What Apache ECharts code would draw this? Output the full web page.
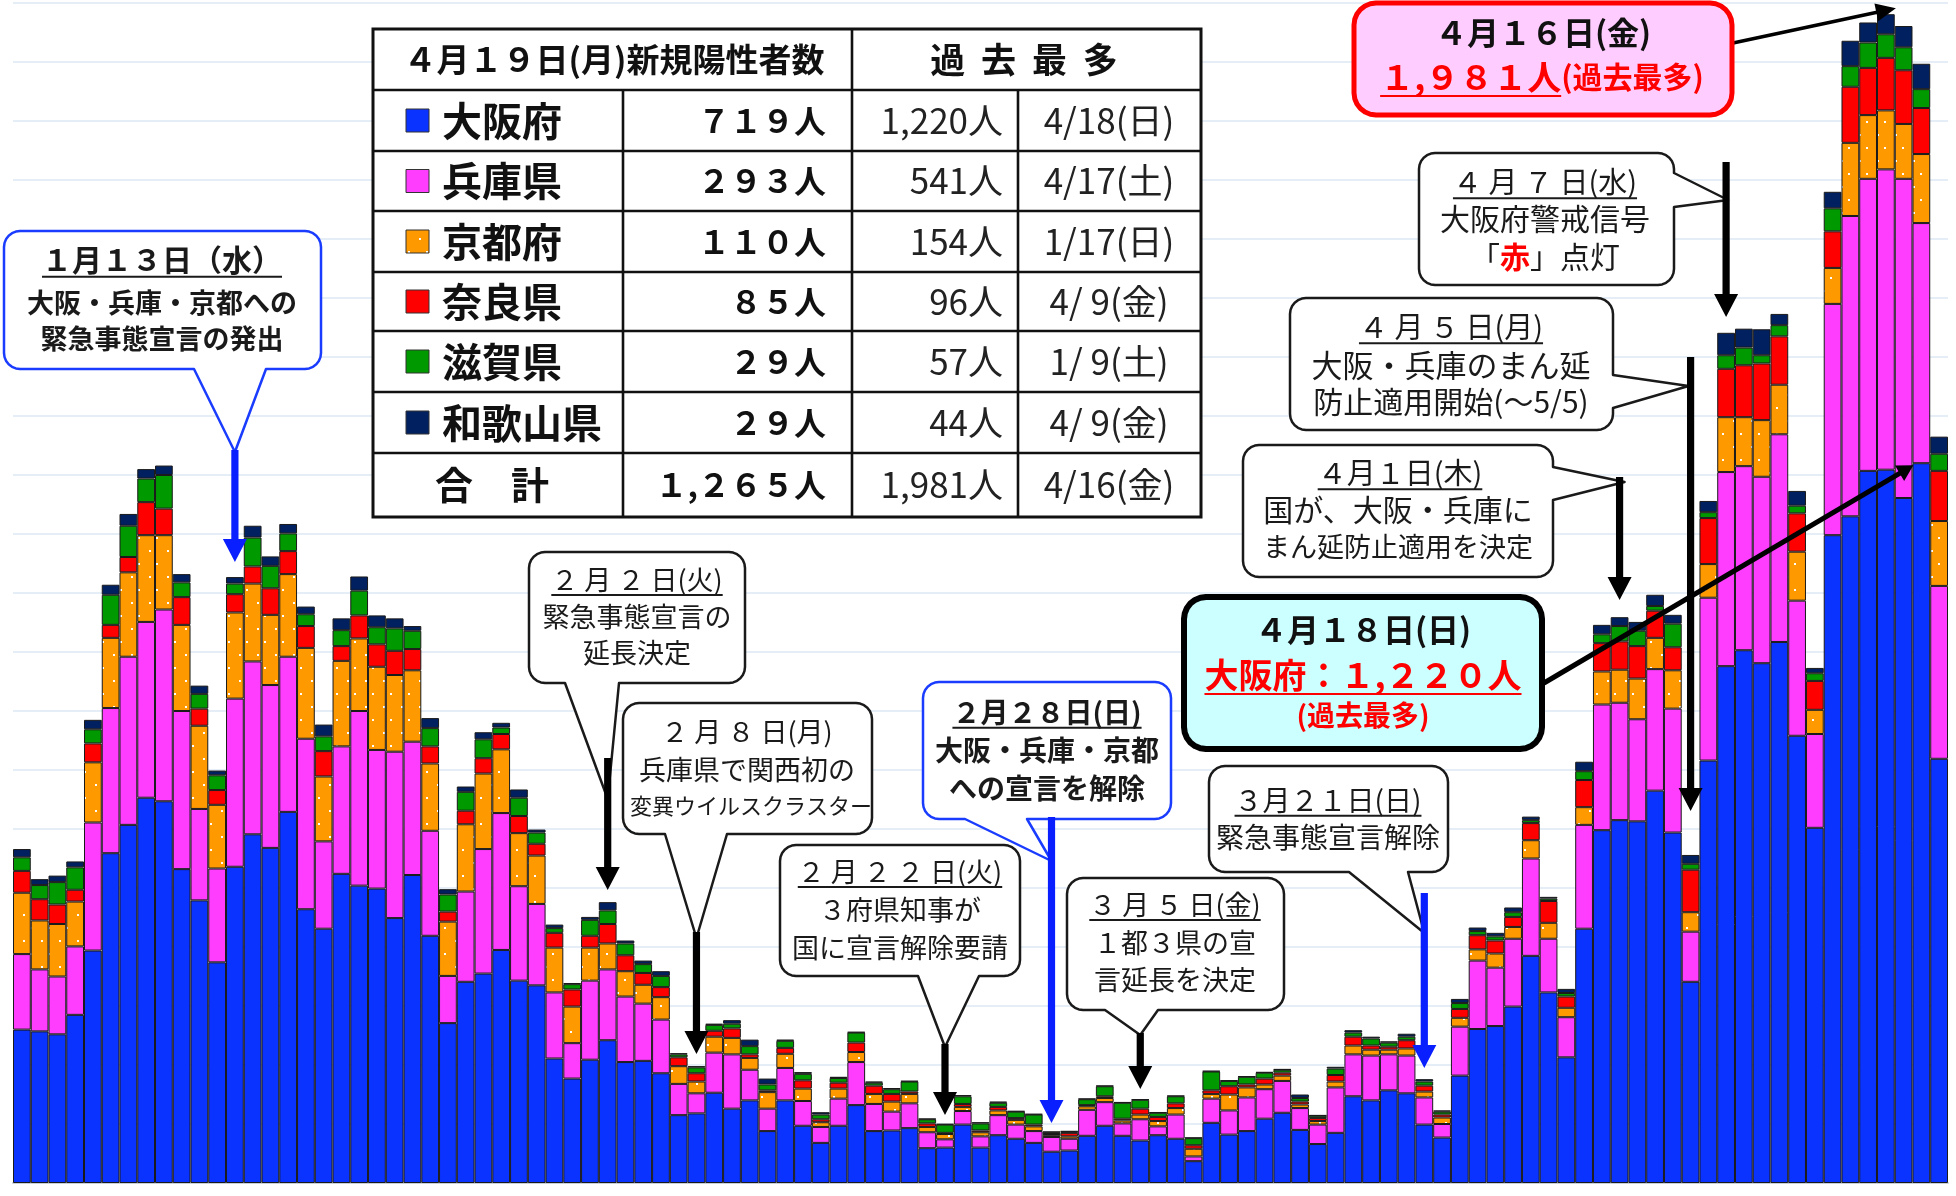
<!DOCTYPE html>
<html><head><meta charset="utf-8">
<script src="https://cdn.jsdelivr.net/npm/echarts@6/dist/echarts.min.js"></script>
<style>html,body{margin:0;padding:0;background:#fff}#c{width:1956px;height:1196px}</style>
</head><body><div id="c"></div>
<script>
const dates = ['1/1','1/2','1/3','1/4','1/5','1/6','1/7','1/8','1/9','1/10','1/11','1/12','1/13','1/14','1/15','1/16','1/17','1/18','1/19','1/20','1/21','1/22','1/23','1/24','1/25','1/26','1/27','1/28','1/29','1/30','1/31',
'2/1','2/2','2/3','2/4','2/5','2/6','2/7','2/8','2/9','2/10','2/11','2/12','2/13','2/14','2/15','2/16','2/17','2/18','2/19','2/20','2/21','2/22','2/23','2/24','2/25','2/26','2/27','2/28',
'3/1','3/2','3/3','3/4','3/5','3/6','3/7','3/8','3/9','3/10','3/11','3/12','3/13','3/14','3/15','3/16','3/17','3/18','3/19','3/20','3/21','3/22','3/23','3/24','3/25','3/26','3/27','3/28','3/29','3/30','3/31',
'4/1','4/2','4/3','4/4','4/5','4/6','4/7','4/8','4/9','4/10','4/11','4/12','4/13','4/14','4/15','4/16','4/17','4/18','4/19'];

const osaka = [260,257,252,285,394,559,607,653,647,532,479,374,536,591,568,629,464,431,524,504,499,449,522,419,271,341,355,395,343,335,211,
177,209,242,205,207,186,115,118,153,126,140,88,140,97,68,97,132,88,89,93,59,60,99,60,81,75,68,53,
55,80,97,80,72,81,75,37,102,82,88,109,119,90,66,85,147,140,157,152,99,77,182,261,266,299,385,323,213,431,598,
615,613,665,594,341,716,876,903,881,917,758,602,1098,1130,1207,1209,1161,1220,719];
const hyogo = [128,105,98,116,217,246,285,298,325,268,155,159,285,293,276,263,289,148,216,296,235,282,226,178,80,153,211,232,160,138,112,
60,134,120,111,97,91,53,34,68,92,52,38,55,42,27,46,73,46,32,42,27,14,23,19,34,24,20,25,
20,44,40,21,36,15,41,8,41,41,57,50,54,37,33,77,71,76,61,64,46,23,83,116,99,115,165,91,68,176,213,
199,173,206,210,85,276,329,312,316,352,229,159,392,509,495,509,541,407,293];
const kyoto = [104,83,89,76,102,119,143,147,126,146,141,108,146,132,119,140,154,110,145,123,141,130,121,114,92,114,128,108,90,82,76,
62,56,44,43,32,38,30,20,27,28,20,28,24,21,8,17,17,17,17,16,9,9,7,7,8,8,8,3,
4,6,7,5,8,9,11,13,8,27,17,8,9,6,6,10,15,10,8,12,10,11,15,19,24,20,31,27,16,30,56,
56,69,53,65,33,57,93,83,96,84,83,41,61,124,108,100,93,117,110];
const nara = [37,36,33,20,32,22,26,56,45,47,29,25,31,29,45,39,37,43,25,39,38,41,36,29,17,23,26,26,29,20,25,
29,20,33,27,20,17,15,14,10,16,6,3,10,14,5,10,16,14,13,4,6,2,5,3,6,3,3,2,
6,2,3,3,10,7,8,6,6,14,5,10,5,5,5,11,15,7,5,14,10,5,15,24,22,17,29,37,19,46,48,
48,55,46,39,72,78,82,88,96,82,65,49,62,95,80,89,91,78,85];
const shiga = [23,24,38,38,24,51,53,40,57,25,25,25,18,49,38,30,20,25,27,42,29,38,31,31,29,32,32,11,31,19,8,
9,27,23,20,15,19,5,10,10,8,14,10,12,11,8,8,17,5,8,17,7,14,13,12,7,11,17,3,
2,10,17,27,15,7,12,12,32,9,13,10,5,6,4,11,7,12,7,6,7,5,10,7,7,8,5,4,6,15,15,
26,26,8,40,10,10,23,30,14,19,13,13,39,35,43,40,39,32,29];
const wakayama = [14,10,11,10,16,17,20,16,16,14,14,8,11,20,16,16,13,20,20,24,20,17,8,17,9,9,12,8,14,5,6,
2,5,14,5,6,8,2,2,2,6,11,10,2,3,4,2,1,2,2,1,1,1,2,2,2,1,1,1,
1,1,1,1,1,1,1,1,1,1,1,1,1,6,1,3,4,3,2,5,4,2,7,6,6,8,6,3,7,16,16,
15,15,19,15,15,19,38,32,44,19,25,9,28,43,34,34,36,43,29];

const prefs = ['大阪府','兵庫県','京都府','奈良県','滋賀県','和歌山県'];
const pastMax = ['1,220人','541人','154人','96人','57人','44人'];
const pastMaxDate = ['4/18(日)','4/17(土)','1/17(日)','4/ 9(金)','1/ 9(土)','4/ 9(金)'];
const totalMax = '1,981人';
const totalMaxDate = '4/16(金)';
const tableTitle = '４月１９日(月)新規陽性者数';
const tableTitle2 = '過  去  最  多';

const colors = ['#0A33FF','#FF3DFF','#FF9900','#FF0000','#009900','#002060'];
const FONT = '"Noto Sans CJK JP", "Noto Sans CJK SC", sans-serif';

function dotPattern(){
  const c=document.createElement('canvas'); c.width=18; c.height=26;
  const g=c.getContext('2d'); g.fillStyle='#FF9900'; g.fillRect(0,0,18,26);
  g.fillStyle='#ffffff'; g.fillRect(5,4,2,2); g.fillRect(12,17,2,2);
  return c;
}
const kyotoFill = {image: dotPattern(), repeat:'repeat'};

const values = [osaka,hyogo,kyoto,nara,shiga,wakayama];
const chart = echarts.init(document.getElementById('c'), null, {renderer:'canvas'});
chart.setOption({
  animation:false,
  backgroundColor:'#ffffff',
  grid:{left:13,right:8,top:3,bottom:13,containLabel:false},
  xAxis:{type:'category',data:dates,axisLine:{show:true,lineStyle:{color:'#c9cfd8',width:2}},axisTick:{show:false},axisLabel:{show:false},splitLine:{show:false}},
  yAxis:{type:'value',min:0,max:2000,interval:100,axisLabel:{show:false},axisLine:{show:false},axisTick:{show:false},
    splitLine:{show:true,lineStyle:{color:'#dde7f3',width:1.5}}},
  series: prefs.map((n,i)=>({name:n,type:'bar',stack:'total',data:values[i],barWidth:'100%',barCategoryGap:'0%',silent:true,
    itemStyle:{color: i===2 ? kyotoFill : colors[i], borderColor:'#1a1a1a', borderWidth:1}, emphasis:{disabled:true}}))
});

const px = d => chart.convertToPixel({xAxisIndex:0}, d);
const py = v => chart.convertToPixel({yAxisIndex:0}, v);
const mctx = document.createElement('canvas').getContext('2d');
function tw(t,size,weight){ mctx.font=(weight||'normal')+' '+size+'px '+FONT; return mctx.measureText(t).width; }

const G = [];
let Z = 100;
function text(t,x,y,size,opt){
  opt=opt||{};
  const st={text:t,x:x,y:y,fontSize:size,fontWeight:opt.weight||'normal',fontFamily:FONT,fill:opt.color||'#1a1a1a',
    align:opt.align||'center',textAlign:opt.align||'center',verticalAlign:'middle',textVerticalAlign:'middle'};
  if(opt.rich) st.rich=opt.rich;
  G.push({type:'text',z:Z,style:st,silent:true});
  if(opt.underline){
    const w = opt.uw || tw(t,size,opt.weight);
    let x0 = x - w/2; if(opt.align==='left') x0=x; if(opt.align==='right') x0=x-w;
    const uy = y + size*0.56;
    G.push({type:'line',z:Z,shape:{x1:x0,y1:uy,x2:x0+w,y2:uy},style:{stroke:opt.ucolor||opt.color||'#1a1a1a',lineWidth:2}});
  }
}
function boxPts(x,y,w,h,r,tail){
  const pts=[];
  const arc=(cx,cy,a0,a1)=>{for(let k=0;k<=6;k++){const a=a0+(a1-a0)*k/6;pts.push([cx+r*Math.cos(a),cy+r*Math.sin(a)]);}};
  arc(x+r,y+r,Math.PI,1.5*Math.PI);
  arc(x+w-r,y+r,1.5*Math.PI,2*Math.PI);
  if(tail&&tail.side==='right'){pts.push([x+w,tail.a],tail.tip,[x+w,tail.b]);}
  arc(x+w-r,y+h-r,0,0.5*Math.PI);
  if(tail&&tail.side==='bottom'){pts.push([tail.b,y+h],tail.tip,[tail.a,y+h]);}
  arc(x+r,y+h-r,0.5*Math.PI,Math.PI);
  return pts;
}
function box(b,r,tail,fill,stroke,lw){
  G.push({type:'polygon',z:Z,shape:{points:boxPts(b[0],b[1],b[2],b[3],r,tail)},style:{fill:fill,stroke:stroke,lineWidth:lw,lineJoin:'round'}});
}
function vArrow(x,y1,y2,color){
  const w=3.6,hw=12,hl=23;
  G.push({type:'polygon',z:Z,shape:{points:[[x-w,y1],[x+w,y1],[x+w,y2-hl],[x+hw,y2-hl],[x,y2],[x-hw,y2-hl],[x-w,y2-hl]]},style:{fill:color}});
}
function dArrow(x1,y1,x2,y2,lw,hw,hl,color){
  const dx=x2-x1,dy=y2-y1,L=Math.hypot(dx,dy),ux=dx/L,uy=dy/L,nx=-uy,ny=ux;
  const bx=x2-ux*hl,by=y2-uy*hl;
  G.push({type:'line',z:Z,shape:{x1:x1,y1:y1,x2:bx+ux*2,y2:by+uy*2},style:{stroke:color,lineWidth:lw}});
  G.push({type:'polygon',z:Z,shape:{points:[[x2,y2],[bx+nx*hw,by+ny*hw],[bx-nx*hw,by-ny*hw]]},style:{fill:color}});
}

/* ---------- table ---------- */
const TX=[373,623,852,1018,1201], TY=[29,90,151,211,272,331,392,453,517];
G.push({type:'rect',z:Z,shape:{x:TX[0],y:TY[0],width:TX[4]-TX[0],height:TY[8]-TY[0]},style:{fill:'#fff',stroke:'#111',lineWidth:3}});
for(let i=1;i<TY.length-1;i++) G.push({type:'line',z:Z,shape:{x1:TX[0],y1:TY[i],x2:TX[4],y2:TY[i]},style:{stroke:'#111',lineWidth:2.6}});
G.push({type:'line',z:Z,shape:{x1:TX[1],y1:TY[1],x2:TX[1],y2:TY[8]},style:{stroke:'#111',lineWidth:2.6}});
G.push({type:'line',z:Z,shape:{x1:TX[2],y1:TY[0],x2:TX[2],y2:TY[8]},style:{stroke:'#111',lineWidth:2.6}});
G.push({type:'line',z:Z,shape:{x1:TX[3],y1:TY[1],x2:TX[3],y2:TY[8]},style:{stroke:'#111',lineWidth:2.6}});
text(tableTitle,614,(TY[0]+TY[1])/2,33,{weight:'bold',color:'#111'});
text(tableTitle2,1024,(TY[0]+TY[1])/2,35,{weight:'bold',color:'#111'});
const fw = s => String(s).replace(/[0-9]/g,c=>String.fromCharCode(c.charCodeAt(0)+0xFEE0));
const fmt = n => n.toLocaleString('en-US');
const last = values.map(a=>a[a.length-1]);
prefs.forEach((p,i)=>{
  const cy=(TY[i+1]+TY[i+2])/2;
  G.push({type:'rect',z:Z,shape:{x:406,y:cy-11.5,width:23,height:23},style:{fill:i===2?kyotoFill:colors[i],stroke:'#333',lineWidth:1}});
  text(p,442,cy,40,{weight:'bold',align:'left',color:'#111'});
  text(fw(last[i])+'人',826,cy,32,{weight:'bold',align:'right',color:'#111'});
  text(pastMax[i],1003,cy,35,{align:'right',color:'#222'});
  text(pastMaxDate[i],1109,cy,35,{color:'#222'});
});
const totCy=(TY[7]+TY[8])/2;
const totalToday = last.reduce((a,b)=>a+b,0);
text('合　計',492,totCy,38,{weight:'bold',color:'#111'});
text(fw(fmt(totalToday))+'人',826,totCy,32,{weight:'bold',align:'right',color:'#111'});
text(totalMax,1003,totCy,35,{align:'right',color:'#222'});
text(totalMaxDate,1109,totCy,35,{color:'#222'});

/* ---------- callouts ---------- */
const BLK='#1a1a1a', BLUE='#1a3cff', ABLUE='#0a1fff';
// 1/13
{ const ax=px('1/13');
  box([4,231,317,138],16,{side:'bottom',a:194,b:266,tip:[ax,452]},'#fff',BLUE,2.5);
  vArrow(ax,450,562,ABLUE);
  text('１月１３日（水）',162,260,30,{weight:'bold',underline:true});
  text('大阪・兵庫・京都への',162,303,27,{weight:'bold'});
  text('緊急事態宣言の発出',162,339,27,{weight:'bold'}); }
// 2/2
{ const ax=px('2/3');
  box([529,552,216,131],16,{side:'bottom',a:565,b:619,tip:[ax,799]},'#fff',BLK,2.5);
  vArrow(ax,758,890,'#000');
  text('２ 月 ２ 日(火)',637,580,27,{underline:true});
  text('緊急事態宣言の',637,617,27);
  text('延長決定',637,653,27); }
// 2/8
{ const ax=px('2/8');
  box([623,703,249,131],16,{side:'bottom',a:665,b:727,tip:[ax,938]},'#fff',BLK,2.5);
  vArrow(ax,932,1054,'#000');
  text('２ 月 ８ 日(月)',747,732,27);
  text('兵庫県で関西初の',747,770,27);
  text('変異ウイルスクラスター',751,806,22); }
// 2/22
{ const ax=px('2/22');
  box([780,845,240,131],16,{side:'bottom',a:918,b:979,tip:[ax,1047]},'#fff',BLK,2.5);
  vArrow(ax,1044,1115,'#000');
  text('２ 月 ２ ２ 日(火)',900,872,27,{underline:true});
  text('３府県知事が',900,910,27);
  text('国に宣言解除要請',900,948,27); }
// 2/28
{ const ax=px('2/28');
  box([923,682,248,137],16,{side:'bottom',a:965,b:1027,tip:[ax,861]},'#fff',BLUE,2.5);
  vArrow(ax,817,1123,ABLUE);
  text('２月２８日(日)',1047,712,28,{weight:'bold',underline:true});
  text('大阪・兵庫・京都',1047,750,28,{weight:'bold'});
  text('への宣言を解除',1047,788,28,{weight:'bold'}); }
// 3/5
{ const ax=px('3/5');
  box([1067,878,217,132],16,{side:'bottom',a:1105,b:1158,tip:[ax,1035]},'#fff',BLK,2.5);
  vArrow(ax,1033,1089,'#000');
  text('３ 月 ５ 日(金)',1175,905,27,{underline:true});
  text('１都３県の宣',1175,943,27);
  text('言延長を決定',1175,980,27); }
// 3/21
{ const ax=px('3/21');
  box([1209,766,239,106],16,{side:'bottom',a:1349,b:1408,tip:[ax,933]},'#fff',BLK,2.5);
  vArrow(ax,893,1068,ABLUE);
  text('３月２１日(日)',1328,800,28,{underline:true});
  text('緊急事態宣言解除',1328,837,28); }
// 4/7
{ const ax=px('4/7');
  box([1419,153,255,132],16,{side:'right',a:173,b:207,tip:[ax+2,200]},'#fff',BLK,2.5);
  vArrow(ax,162,317,'#000');
  text('４ 月 ７ 日(水)',1545,182,29,{underline:true});
  text('大阪府警戒信号',1545,219,30);
  text('「{r|赤}」点灯',1545,257,30,{rich:{r:{fill:'#ff0000',fontWeight:'bold',fontSize:30,fontFamily:FONT}}}); }
// 4/5
{ const ax=px('4/5');
  box([1290,298,323,132],16,{side:'right',a:375,b:408,tip:[ax-2,386]},'#fff',BLK,2.5);
  vArrow(ax,357,811,'#000');
  text('４ 月 ５ 日(月)',1451,327,29,{underline:true});
  text('大阪・兵庫のまん延',1451,365,31);
  text('防止適用開始(〜5/5)',1451,402,30); }
// 4/1
{ const ax=px('4/1');
  box([1243,445,310,132],16,{side:'right',a:467,b:500,tip:[ax+5,482]},'#fff',BLK,2.5);
  vArrow(ax,477,600,'#000');
  text('４月１日(木)',1400,473,29,{underline:true});
  text('国が、大阪・兵庫に',1398,510,30);
  text('まん延防止適用を決定',1398,547,27); }
// 4/18 record
{ const ax=px('4/18'), ay=py(osaka[dates.indexOf('4/18')]);
  dArrow(1544,683,ax-8,ay+2,5,9,16,'#000');
  box([1184,597,358,152],22,null,'#ccffff','#000',6);
  text('４月１８日(日)',1363,630,32,{weight:'bold',color:'#111'});
  text('大阪府：１,２２０人',1363,675,34,{weight:'bold',color:'#ff0000',underline:true});
  text('(過去最多)',1363,715,28,{weight:'bold',color:'#ff0000'}); }
// 4/16 record
{ const i16=dates.indexOf('4/16'); const tot=values.reduce((s,a)=>s+a[i16],0);
  const ax=px('4/16'), ay=py(tot);
  dArrow(1733,43,ax+10,ay-6,3.5,9,20,'#000');
  box([1354,3,378,112],22,null,'#ffccff','#ff0000',5);
  text('４月１６日(金)',1543,33,32,{weight:'bold',color:'#111'});
  const a='１,９８１人', b='(過去最多)';
  const wa=tw(a,34,'bold'), wb=tw(b,30,'bold');
  const x0=1542-(wa+wb)/2;
  text('{a|'+a+'}{b|'+b+'}',x0,77,34,{align:'left',color:'#ff0000',rich:{a:{fill:'#ff0000',fontWeight:'bold',fontSize:34,fontFamily:FONT},b:{fill:'#ff0000',fontWeight:'bold',fontSize:30,fontFamily:FONT}}});
  G.push({type:'line',z:Z,shape:{x1:x0,y1:96,x2:x0+wa,y2:96},style:{stroke:'#ff0000',lineWidth:2}}); }

chart.setOption({graphic:{elements:G}});
</script>
</body></html>
